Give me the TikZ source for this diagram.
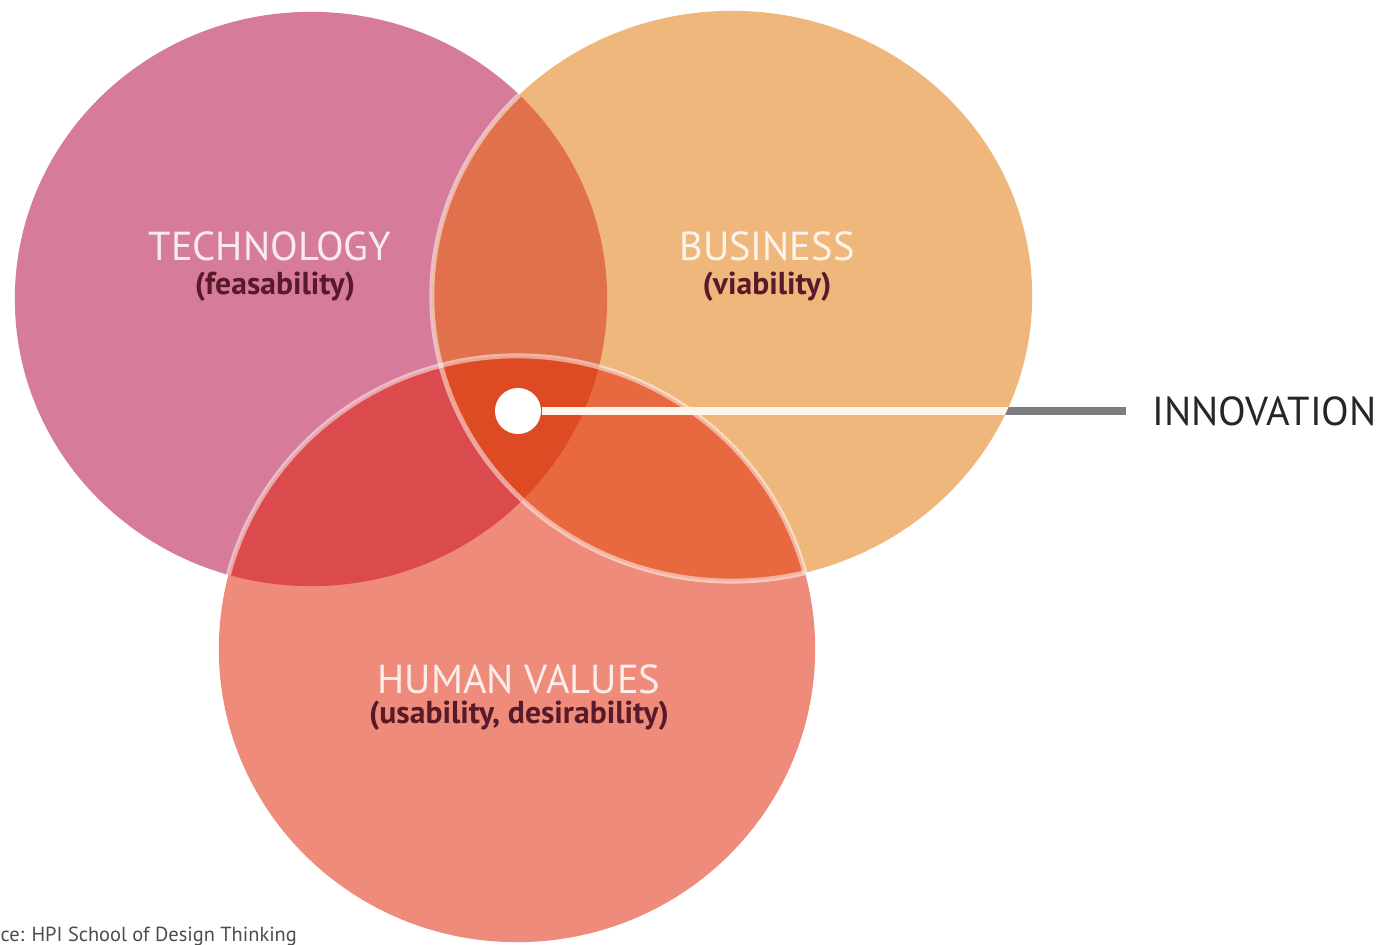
\documentclass[tikz,border=0pt]{standalone}
\usepackage{fontspec}
\setmainfont{PT Sans}
\usepackage{xcolor}
\usetikzlibrary{calc}

\definecolor{techpink}{RGB}{214,123,153}
\definecolor{busorange}{RGB}{240,183,125}
\definecolor{humsalmon}{RGB}{238,139,122}
\definecolor{techbus}{RGB}{224,113,76}
\definecolor{techhum}{RGB}{219,74,76}
\definecolor{bushum}{RGB}{232,104,64}
\definecolor{allthree}{RGB}{222,74,36}
\definecolor{maroon}{RGB}{88,26,42}
\definecolor{pointer}{RGB}{125,125,128}

\begin{document}
\begin{tikzpicture}[x=0.01cm,y=-0.01cm]
  \tikzstyle{title}=[text=white,text opacity=0.85,inner sep=0pt,font=\fontsize{11.5}{13}\selectfont]
  \tikzstyle{sub}=[text=maroon,inner sep=0pt,font=\fontsize{9}{11}\selectfont\bfseries]
  \tikzstyle{rim}=[draw=white,draw opacity=0.5,line width=0.05cm]

  \useasboundingbox (0,0) rectangle (1387,945);

  % centres and radii of the three sets
  \coordinate (T) at (311,299);
  \coordinate (B) at (732,296);
  \coordinate (H) at (517,649);
  \def\rxT{2.96cm} \def\ryT{2.87cm}
  \def\rxB{3.00cm} \def\ryB{2.85cm}
  \def\rxH{2.98cm} \def\ryH{2.93cm}

  % plain discs
  \fill[techpink]  (T) ellipse[x radius=\rxT,y radius=\ryT];
  \fill[busorange] (B) ellipse[x radius=\rxB,y radius=\ryB];
  \fill[humsalmon] (H) ellipse[x radius=\rxH,y radius=\ryH];

  % overlaps
  \begin{scope}
    \clip (T) ellipse[x radius=\rxT,y radius=\ryT];
    \fill[techbus] (B) ellipse[x radius=\rxB,y radius=\ryB];
    \fill[techhum] (H) ellipse[x radius=\rxH,y radius=\ryH];
  \end{scope}
  \begin{scope}
    \clip (B) ellipse[x radius=\rxB,y radius=\ryB];
    \fill[bushum] (H) ellipse[x radius=\rxH,y radius=\ryH];
  \end{scope}
  \begin{scope}
    \clip (T) ellipse[x radius=\rxT,y radius=\ryT];
    \clip (B) ellipse[x radius=\rxB,y radius=\ryB];
    \fill[allthree] (H) ellipse[x radius=\rxH,y radius=\ryH];
  \end{scope}

  % light rims where a circle crosses the others
  \begin{scope}
    \clip (T) ellipse[x radius=\rxT,y radius=\ryT] (H) ellipse[x radius=\rxH,y radius=\ryH];
    \draw[rim] (B) ellipse[x radius=\rxB,y radius=\ryB];
  \end{scope}
  \begin{scope}
    \clip (T) ellipse[x radius=\rxT,y radius=\ryT] (B) ellipse[x radius=\rxB,y radius=\ryB];
    \draw[rim] (H) ellipse[x radius=\rxH,y radius=\ryH];
  \end{scope}

  % labels
  \node[title] (techtitle) at (270,246) {TECHNOLOGY};
  \node[sub]   (techsub)   at (275,287) {(feasability)};
  \node[title] (bustitle)  at (767,246) {BUSINESS};
  \node[sub]   (bussub)    at (767,287) {(viability)};
  \node[title] (humtitle)  at (519,679) {HUMAN VALUES};
  \node[sub]   (humsub)    at (519,716) {(usability, desirability)};

  % innovation pointer
  \node[circle,fill=white,minimum size=0.46cm,inner sep=0pt] (dot) at (518,411) {};
  \coordinate (tail) at (1126,411);
  \node[anchor=west,inner sep=0pt,text=black!85,font=\fontsize{11.5}{13}\selectfont] (innov) at (1152,411) {INNOVATION};
  \draw[pointer,line width=0.075cm] (dot) -- (tail);
  \begin{scope}
    \clip (B) ellipse[x radius=\rxB,y radius=\ryB];
    \draw[white!92!orange,line width=0.075cm] (dot) -- (tail);
  \end{scope}

  \node[anchor=west,inner sep=0pt,text=black!70,font=\fontsize{5.8}{7}\selectfont] (source) at (0,936) {ce: HPI School of Design Thinking};
\end{tikzpicture}
\end{document}
